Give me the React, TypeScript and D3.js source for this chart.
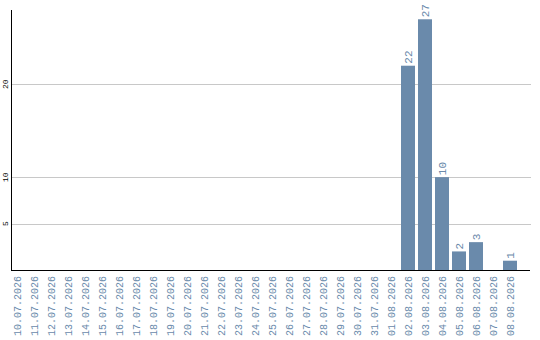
import React from "react";
import * as d3 from "d3";

const dates = [
  "10.07.2026", "11.07.2026", "12.07.2026", "13.07.2026", "14.07.2026",
  "15.07.2026", "16.07.2026", "17.07.2026", "18.07.2026", "19.07.2026",
  "20.07.2026", "21.07.2026", "22.07.2026", "23.07.2026", "24.07.2026",
  "25.07.2026", "26.07.2026", "27.07.2026", "28.07.2026", "29.07.2026",
  "30.07.2026", "31.07.2026", "01.08.2026", "02.08.2026", "03.08.2026",
  "04.08.2026", "05.08.2026", "06.08.2026", "07.08.2026", "08.08.2026",
];
const counts = [
  0, 0, 0, 0, 0, 0, 0, 0, 0, 0,
  0, 0, 0, 0, 0, 0, 0, 0, 0, 0,
  0, 0, 0, 22, 27, 10, 2, 3, 0, 1,
];
const yTicks = [5, 10, 20];

const W = 540;
const H = 340;
const axisX = 11;
const axisRight = 530;
const top = 10;
const base = 270;
const barColor = "#6a8aab";
const mono = "'Liberation Mono', 'DejaVu Sans Mono', monospace";

export default function App() {
  const x = d3
    .scaleBand<string>()
    .domain(dates)
    .range([8.5, 518.5])
    .paddingInner(3 / 17)
    .paddingOuter(3 / 34);
  const y = d3.scaleLinear().domain([0, 28]).range([base, top]);

  return (
    <svg
      width={W}
      height={H}
      style={{ position: "absolute", left: 0, top: 0, background: "#fff" }}
    >
      {yTicks.map((t) => (
        <g key={t}>
          <line
            x1={axisX}
            x2={axisRight + 1}
            y1={Math.round(y(t)) + 0.5}
            y2={Math.round(y(t)) + 0.5}
            stroke="#c8c8c8"
            strokeWidth={1}
          />
          <text
            transform={`translate(8,${y(t)}) rotate(-90)`}
            textAnchor="middle"
            fontFamily={mono}
            fontSize={8}
            fill="#000"
          >
            {t}
          </text>
        </g>
      ))}
      {dates.map((d, i) => {
        const v = counts[i];
        const bx = x(d)!;
        const cx = bx + x.bandwidth() / 2;
        return (
          <g key={d}>
            {v > 0 && (
              <>
                <rect
                  x={bx}
                  y={y(v)}
                  width={x.bandwidth()}
                  height={base - y(v)}
                  fill={barColor}
                />
                <text
                  transform={`translate(${cx + 4},${y(v) - 2}) rotate(-90)`}
                  textAnchor="start"
                  fontFamily={mono}
                  fontSize={11}
                  fill={barColor}
                >
                  {v}
                </text>
              </>
            )}
            <text
              transform={`translate(${cx + 4},${base + 6}) rotate(-90)`}
              textAnchor="end"
              fontFamily={mono}
              fontSize={10}
              fill={barColor}
            >
              {d}
            </text>
          </g>
        );
      })}
      <line x1={axisX + 0.5} x2={axisX + 0.5} y1={top} y2={base + 1} stroke="#000" />
      <line x1={axisX} x2={axisRight} y1={base + 0.5} y2={base + 0.5} stroke="#000" />
    </svg>
  );
}
